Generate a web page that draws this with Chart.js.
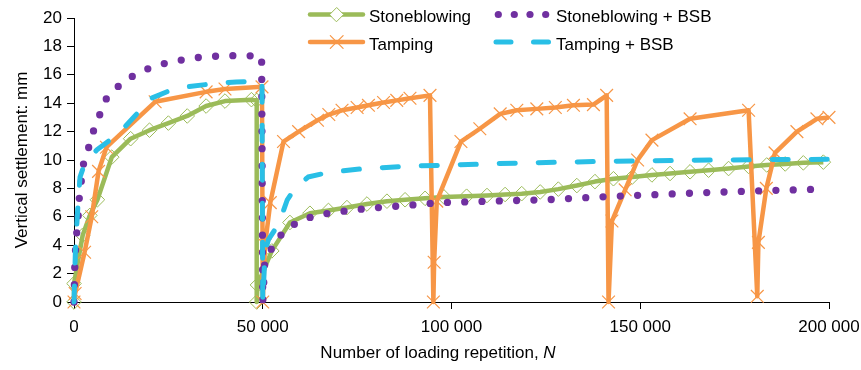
<!DOCTYPE html>
<html><head><meta charset="utf-8">
<script src="https://cdn.jsdelivr.net/npm/chart.js@4"></script>
<style>html,body{margin:0;padding:0;background:#fff}#wrap{width:861px;height:370px;position:relative}</style>
</head><body><div id="wrap"><canvas id="c" width="861" height="370"></canvas></div>
<script>
// ---- data (N = loading repetitions, values = settlement in mm) ----
const xTicks = [0, 50000, 100000, 150000, 200000];
const yTicks = [0, 2, 4, 6, 8, 10, 12, 14, 16, 18, 20];
const seriesNames = ['Stoneblowing', 'Tamping', 'Stoneblowing + BSB', 'Tamping + BSB'];

const sbN = [0, 0, 2300, 4200, 6200, 10000, 15000, 20000, 25000, 30000, 35000, 40000, 47000, 48400, 48400, 48600,
  52400, 57200, 62500, 67400, 72300, 77600, 82900, 87700, 93000, 98000, 104000, 109400, 114200, 118600, 123500,
  128300, 133200, 138000, 142900, 147900, 153100, 157900, 163200, 168100, 173400, 178700, 183500, 188400, 193200, 198500];
const sbV = [0, 1.3, 4.7, 6.1, 7.2, 10.2, 11.5, 12.1, 12.6, 13.1, 13.8, 14.15, 14.25, 14.2, 0, 1.2,
  3.6, 5.6, 6.25, 6.45, 6.65, 6.9, 7.1, 7.2, 7.3, 7.4, 7.45, 7.5, 7.57, 7.63, 7.75,
  7.95, 8.2, 8.48, 8.68, 8.8, 8.95, 9.05, 9.17, 9.28, 9.4, 9.55, 9.65, 9.72, 9.8, 9.85];

const tpN = [0, 300, 2800, 4700, 6500, 8600, 21500, 35000, 40000, 49800, 50000, 50600, 52000, 55500, 59500, 64500,
  67500, 71000, 75000, 78000, 82000, 85500, 89000, 94300, 95200, 95400, 96100, 102500, 107500, 112900, 117300,
  122600, 127500, 132300, 137600, 141100, 141600, 142500, 146000, 149300, 153100, 163200, 178700, 181000, 181300,
  183400, 185700, 191500, 196800, 200000];
const tpV = [0, 0.6, 3.5, 6.0, 9.2, 10.9, 14.1, 14.8, 15.0, 15.15, 0, 4.0, 7.0, 11.3, 12.0, 12.8,
  13.2, 13.5, 13.7, 13.85, 14.05, 14.2, 14.35, 14.55, 0, 2.8, 7.1, 11.3, 12.2, 13.25, 13.5,
  13.6, 13.7, 13.85, 13.9, 14.55, 0, 5.7, 7.9, 10.0, 11.4, 12.9, 13.5, 0.4, 4.2,
  8.0, 10.5, 12.0, 12.9, 13.0];

const sbbN = [0, 250, 700, 1100, 1400, 1900, 2500, 3800, 5100, 6700, 8200, 11300, 14800, 18800, 23200, 27600,
  32000, 36800, 41300, 45800, 49700, 50000, 50500, 51600, 53600, 56900, 60600, 65000, 70000, 78000, 88000,
  97000, 110000, 125000, 138000, 150000, 165000, 180000, 198000];
const sbbV = [0, 3.1, 4.8, 6.0, 7.3, 8.45, 9.7, 10.8, 12.0, 13.1, 14.2, 15.1, 15.8, 16.35, 16.75, 17.0,
  17.2, 17.3, 17.35, 17.35, 17.3, 0, 2.6, 3.4, 4.4, 5.25, 5.8, 6.15, 6.35, 6.6, 6.8,
  7.0, 7.1, 7.2, 7.38, 7.52, 7.68, 7.82, 7.95];

const tbN = [0, 400, 1000, 1600, 2500, 4000, 6000, 9500, 13000, 16500, 20000, 25000, 30000, 36000, 43000, 49800,
  50000, 50600, 51500, 53000, 54500, 56500, 58500, 62000, 67000, 75000, 87000, 100000, 120000, 140000, 160000,
  180000, 200000];
const tbV = [0, 3.9, 6.6, 8.8, 9.5, 10.1, 10.7, 11.4, 12.2, 13.2, 14.3, 14.85, 15.15, 15.35, 15.5, 15.55,
  0, 3.5, 4.4, 5.0, 5.7, 7.2, 8.0, 8.8, 9.1, 9.35, 9.55, 9.65, 9.8, 9.9, 9.97,
  10.02, 10.05];

// ---- styling ----
const FONT = "'Liberation Sans', Arial, sans-serif";
const GREEN = '#9BBB59', ORANGE = '#F79646', PURPLE = '#7030A0', CYAN = '#29BFE6';
Chart.defaults.font.family = FONT;
Chart.defaults.font.size = 17;
Chart.defaults.color = '#000';

const pts = (xs, ys) => xs.map((x, i) => ({x: x, y: ys[i]}));
const fmt = v => String(v).replace(/\B(?=(\d{3})+(?!\d))/g, ' ');

const overlay = {
  id: 'overlay',
  afterDraw(chart) {
    const ctx = chart.ctx;
    ctx.save();
    ctx.fillStyle = '#000';
    ctx.textAlign = 'left';
    ctx.textBaseline = 'alphabetic';
    // x-axis title with italic N
    const t1 = 'Number of loading repetition, ', t2 = 'N';
    ctx.font = '17px ' + FONT;
    const w1 = ctx.measureText(t1).width;
    ctx.font = 'italic 17px ' + FONT;
    const w2 = ctx.measureText(t2).width;
    const x0 = 438 - (w1 + w2) / 2;
    ctx.font = '17px ' + FONT; ctx.fillText(t1, x0, 358);
    ctx.font = 'italic 17px ' + FONT; ctx.fillText(t2, x0 + w1, 358);

    // legend
    const r1 = 14.5, r2 = 42;
    ctx.lineCap = 'round';
    // Stoneblowing
    ctx.strokeStyle = GREEN; ctx.lineWidth = 4.5;
    ctx.beginPath(); ctx.moveTo(310, r1); ctx.lineTo(363, r1); ctx.stroke();
    ctx.lineWidth = 1; ctx.beginPath();
    ctx.moveTo(329.7, r1); ctx.lineTo(336.7, r1 - 7); ctx.lineTo(343.7, r1); ctx.lineTo(336.7, r1 + 7); ctx.closePath();
    ctx.fillStyle = '#fff'; ctx.fill(); ctx.stroke();
    // Tamping
    ctx.strokeStyle = ORANGE; ctx.lineWidth = 4.5;
    ctx.beginPath(); ctx.moveTo(310, r2); ctx.lineTo(363, r2); ctx.stroke();
    ctx.lineWidth = 1.2; ctx.beginPath();
    const d = 6.4;
    ctx.moveTo(336.7 - d, r2 - d); ctx.lineTo(336.7 + d, r2 + d);
    ctx.moveTo(336.7 - d, r2 + d); ctx.lineTo(336.7 + d, r2 - d); ctx.stroke();
    // Stoneblowing + BSB
    ctx.fillStyle = PURPLE;
    [498.3, 514.3, 530, 545.7].forEach(x => { ctx.beginPath(); ctx.arc(x, r1, 3.6, 0, Math.PI * 2); ctx.fill(); });
    // Tamping + BSB
    ctx.strokeStyle = CYAN; ctx.lineWidth = 5;
    ctx.beginPath(); ctx.moveTo(496, r2); ctx.lineTo(511, r2); ctx.moveTo(533.5, r2); ctx.lineTo(548.5, r2); ctx.stroke();
    // legend texts
    ctx.fillStyle = '#000'; ctx.font = '17px ' + FONT;
    ctx.fillText(seriesNames[0], 369, 22);
    ctx.fillText(seriesNames[2], 556, 22);
    ctx.fillText(seriesNames[1], 369, 49.5);
    ctx.fillText(seriesNames[3], 556, 49.5);
    ctx.restore();
  }
};

const common = {showLine: true, fill: false, tension: 0, clip: false, borderJoinStyle: 'round'};

new Chart(document.getElementById('c'), {
  type: 'scatter',
  data: {
    datasets: [
      Object.assign({}, common, {label: seriesNames[0], data: pts(sbN, sbV), borderColor: GREEN, borderWidth: 4.5,
        pointStyle: 'rectRot', pointRadius: 7.3, pointBorderWidth: 1, pointBorderColor: GREEN,
        pointBackgroundColor: 'rgba(0,0,0,0)', order: 4}),
      Object.assign({}, common, {label: seriesNames[1], data: pts(tpN, tpV), borderColor: ORANGE, borderWidth: 4.5,
        pointStyle: 'crossRot', pointRadius: 9, pointBorderWidth: 1.2, pointBorderColor: ORANGE,
        pointBackgroundColor: ORANGE, order: 3}),
      Object.assign({}, common, {label: seriesNames[2], data: pts(sbbN, sbbV), borderColor: PURPLE, borderWidth: 7.3,
        borderDash: [0, 17.3], borderCapStyle: 'round', pointRadius: 0, order: 2}),
      Object.assign({}, common, {label: seriesNames[3], data: pts(tbN, tbV), borderColor: CYAN, borderWidth: 5,
        borderDash: [16, 23], borderCapStyle: 'round', pointRadius: 0, order: 1})
    ]
  },
  options: {
    responsive: false,
    animation: false,
    events: [],
    layout: {padding: {left: 0, right: 32, top: 18, bottom: 0}},
    plugins: {legend: {display: false}, tooltip: {enabled: false}},
    scales: {
      x: {
        type: 'linear', min: xTicks[0], max: xTicks[xTicks.length - 1],
        afterBuildTicks: s => { s.ticks = xTicks.map(v => ({value: v})); },
        afterFit: s => { s.height = 68; s.paddingLeft = 0; s.paddingRight = 0; },
        ticks: {callback: v => fmt(v), autoSkip: false, maxRotation: 0, padding: 8, color: '#000'},
        grid: {drawOnChartArea: false, drawTicks: true, tickLength: 7, color: '#000', lineWidth: 1},
        border: {display: true, color: '#000', width: 1}
      },
      y: {
        min: yTicks[0], max: yTicks[yTicks.length - 1],
        afterBuildTicks: s => { s.ticks = yTicks.map(v => ({value: v})); },
        afterFit: s => { s.width = 74; },
        ticks: {padding: 5, color: '#000'},
        grid: {drawOnChartArea: false, drawTicks: true, tickLength: 7, color: '#000', lineWidth: 1},
        border: {display: true, color: '#000', width: 1},
        title: {display: true, text: 'Vertical settlement: mm', padding: {top: 12, bottom: 0}, color: '#000',
          font: {size: 17}}
      }
    }
  },
  plugins: [overlay]
});
</script></body></html>
